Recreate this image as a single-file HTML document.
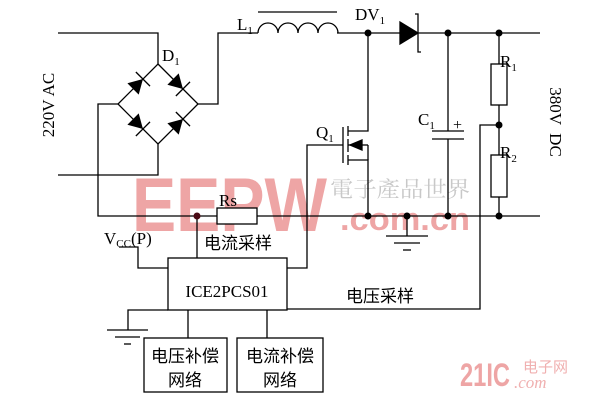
<!DOCTYPE html>
<html><head><meta charset="utf-8"><style>html,body{margin:0;padding:0;background:#fff;}svg{display:block}</style></head>
<body>
<svg width="600" height="404" viewBox="0 0 600 404" xmlns="http://www.w3.org/2000/svg" font-family="'Liberation Serif','Noto Serif CJK SC',serif">
<rect width="600" height="404" fill="#fff"/>
<!-- watermark -->
<text x="132" y="231" font-family="'Liberation Sans',sans-serif" font-weight="bold" font-size="76" fill="#eea5a5" textLength="195" lengthAdjust="spacingAndGlyphs">EEPW</text>
<text x="330" y="197" font-family="'Noto Serif CJK SC',serif" font-size="22" fill="#c8c8c8" textLength="140" lengthAdjust="spacingAndGlyphs">電子產品世界</text>
<text x="340" y="230" font-family="'Liberation Sans',sans-serif" font-weight="bold" font-size="32" fill="#eea5a5" textLength="130" lengthAdjust="spacingAndGlyphs">.com.cn</text>
<text x="460" y="386" font-family="'Liberation Sans',sans-serif" font-weight="bold" font-size="32" fill="#eea5a5" textLength="50" lengthAdjust="spacingAndGlyphs">21IC</text>
<text x="523" y="372" font-family="'Noto Sans CJK SC',sans-serif" font-size="15" fill="#f0b0b0">电子网</text>
<text x="514" y="388" font-family="'Liberation Serif',serif" font-style="italic" font-size="17" fill="#f0b0b0">.com</text>

<g stroke="#000" stroke-width="1.3" fill="none">
<polyline points="58,33 158,33 158,64"/>
<polyline points="58,175 158,175 158,144"/>
<polygon points="158,64 198,104 158,144 118,104"/>
<polyline points="198,104 218,104 218,33 258,33"/>
<polyline points="118,104 98,104 98,216 540,216"/>
<path d="M258,33 a10,10 0 0 1 20,0 a10,10 0 0 1 20,0 a10,10 0 0 1 20,0 a10,10 0 0 1 20,0"/>
<line x1="258" y1="12" x2="337" y2="12"/>
<line x1="337" y1="33" x2="400" y2="33"/>
<line x1="418" y1="33" x2="540" y2="33"/>
<polyline points="415,14 418,14 418,52 421,52"/>
<polyline points="368,33 368,131 348,131"/>
<polyline points="368,216 368,160 348,160"/>
<line x1="362" y1="145" x2="368" y2="145"/>
<line x1="368" y1="145" x2="368" y2="160"/>
<line x1="348" y1="145" x2="352" y2="145"/>
<line x1="343" y1="127" x2="343" y2="163"/>
<line x1="348" y1="126" x2="348" y2="136"/>
<line x1="348" y1="139" x2="348" y2="152"/>
<line x1="348" y1="155" x2="348" y2="165"/>
<polyline points="343,145 307,145 307,268 287,268"/>
<line x1="448" y1="33" x2="448" y2="131"/>
<line x1="432" y1="131" x2="464" y2="131"/>
<line x1="432" y1="139" x2="464" y2="139"/>
<line x1="448" y1="139" x2="448" y2="216"/>
<line x1="499" y1="33" x2="499" y2="64"/>
<rect x="491" y="64" width="16" height="41"/>
<line x1="499" y1="105" x2="499" y2="155"/>
<rect x="491" y="155" width="16" height="42"/>
<line x1="499" y1="197" x2="499" y2="216"/>
<polyline points="499,125 480,125 480,309 287,309"/>
<line x1="407" y1="216" x2="407" y2="236"/>
<line x1="386" y1="236" x2="428" y2="236"/>
<line x1="394" y1="243" x2="420" y2="243"/>
<line x1="403" y1="250" x2="411" y2="250"/>
<rect x="217" y="208" width="40" height="16" fill="#fff"/>
<line x1="197" y1="216" x2="197" y2="258"/>
<rect x="168" y="258" width="119" height="52"/>
<polyline points="119,247 138,247 138,268 168,268"/>
<polyline points="168,310 128,310 128,330"/>
<line x1="107" y1="330" x2="148" y2="330"/>
<line x1="115" y1="337" x2="140" y2="337"/>
<line x1="124" y1="344" x2="131" y2="344"/>
<line x1="188" y1="310" x2="188" y2="338"/>
<line x1="267" y1="310" x2="267" y2="338"/>
<rect x="144" y="338" width="83" height="54"/>
<rect x="237" y="338" width="86" height="54"/>
</g>
<defs>
<g id="dd"><polygon points="-7,-8 -7,8 7,0" fill="#000"/><line x1="7" y1="-10" x2="7" y2="10" stroke="#000" stroke-width="1.3"/></g>
</defs>
<use href="#dd" transform="translate(138,84) rotate(-45)"/>
<use href="#dd" transform="translate(178,84) rotate(45)"/>
<use href="#dd" transform="translate(138,124) rotate(45)"/>
<use href="#dd" transform="translate(178,124) rotate(-45)"/>
<g fill="#000" stroke="#000" stroke-width="1.3">
<polygon points="400,22 400,44 418,33"/>
<polygon points="350,145 362,140 362,150"/>
</g>
<g fill="#000">
<circle cx="368" cy="33" r="3.5"/><circle cx="448" cy="33" r="3.5"/><circle cx="499" cy="33" r="3.5"/>
<circle cx="499" cy="125" r="3.5"/><circle cx="499" cy="216" r="3.5"/>
<circle cx="368" cy="216" r="3.5"/><circle cx="407" cy="216" r="3.5"/><circle cx="448" cy="216" r="3.5"/>
<circle cx="197" cy="216" r="3.5" fill="#4a0a14"/>
</g>
<g font-size="17" fill="#000">
<text x="237" y="30">L<tspan font-size="11" dy="4">1</tspan></text>
<text x="162" y="61">D<tspan font-size="11" dy="4">1</tspan></text>
<text x="355" y="20">DV<tspan font-size="11" dy="4">1</tspan></text>
<text x="316" y="138">Q<tspan font-size="11" dy="4">1</tspan></text>
<text x="418" y="125">C<tspan font-size="11" dy="4">1</tspan></text>
<text x="453" y="130" font-size="16">+</text>
<text x="500" y="67">R<tspan font-size="11" dy="4">1</tspan></text>
<text x="500" y="158">R<tspan font-size="11" dy="4">2</tspan></text>
<text x="219" y="206">Rs</text>
<text x="104" y="244">V<tspan font-size="11" dy="3">CC</tspan><tspan dy="-3">(P)</tspan></text>
<text x="227" y="297" text-anchor="middle">ICE2PCS01</text>
<text transform="translate(54,105) rotate(-90)" text-anchor="middle">220V AC</text>
<text transform="translate(550,122) rotate(90)" text-anchor="middle" xml:space="preserve">380V  DC</text>
</g>
<g font-family="'Noto Sans CJK SC',sans-serif" font-size="17" fill="#000">
<text x="204" y="249">电流采样</text>
<text x="346" y="302">电压采样</text>
<text x="185" y="362" text-anchor="middle">电压补偿</text>
<text x="185" y="386" text-anchor="middle">网络</text>
<text x="280" y="362" text-anchor="middle">电流补偿</text>
<text x="280" y="386" text-anchor="middle">网络</text>
</g>
</svg>
</body></html>
